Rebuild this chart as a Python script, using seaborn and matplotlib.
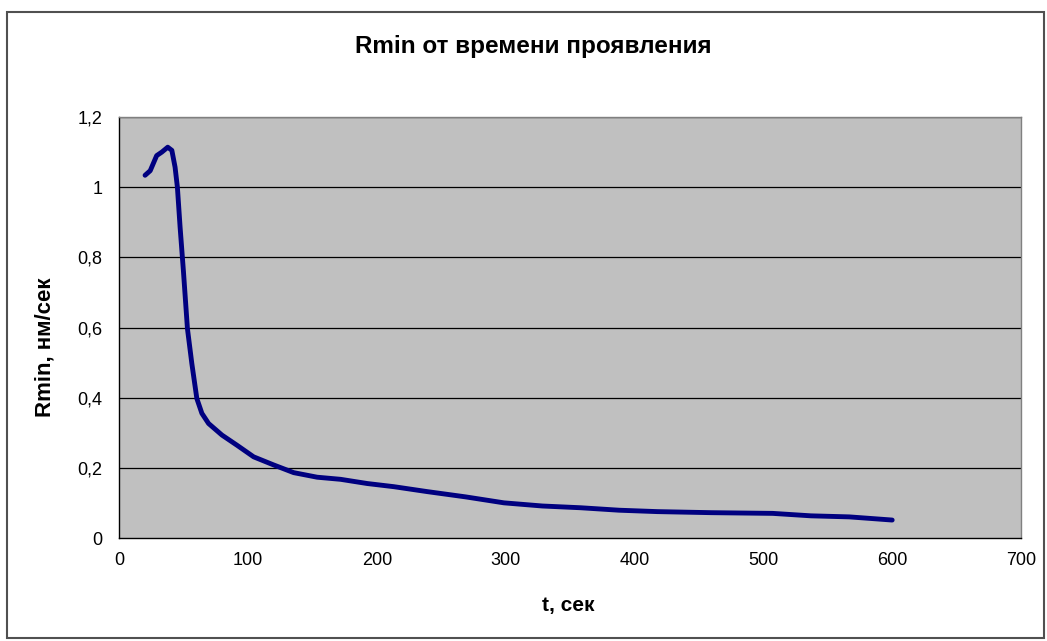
import matplotlib
matplotlib.use("Agg")
import matplotlib.pyplot as plt
import seaborn as sns
import pandas as pd
from matplotlib.patches import Rectangle

t_sec = [20, 24, 29, 33, 37.6, 40.8, 43.3, 45.1, 47.2, 49.8, 52.9, 56.3, 60.2, 64.1,
         69.3, 79.7, 91.4, 104.3, 119.8, 135.4, 153.6, 171.8, 192.5, 213.2, 239,
         268.8, 298.6, 328.4, 358.2, 388, 417.8, 459.5, 507.2, 536.9, 566.7, 600]
rmin = [1.034, 1.047, 1.09, 1.10, 1.114, 1.105, 1.057, 1.0, 0.886, 0.76, 0.597, 0.498,
        0.398, 0.356, 0.327, 0.294, 0.265, 0.232, 0.209, 0.187, 0.174, 0.168, 0.156,
        0.147, 0.133, 0.118, 0.101, 0.092, 0.087, 0.080, 0.076, 0.073, 0.071, 0.064,
        0.061, 0.052]
x_ticks = [0, 100, 200, 300, 400, 500, 600, 700]
y_ticks = [0, 0.2, 0.4, 0.6, 0.8, 1.0, 1.2]
y_tick_labels = ["0", "0,2", "0,4", "0,6", "0,8", "1", "1,2"]
title = "Rmin от времени проявления"
x_label = "t, сек"
y_label = "Rmin, нм/сек"

df = pd.DataFrame({"t": t_sec, "r": rmin})

sns.set_style("white")
plt.rcParams["font.family"] = ["Liberation Sans", "DejaVu Sans"]
plt.rcParams["text.color"] = "black"

W, H = 1047, 641
fig = plt.figure(figsize=(W / 100, H / 100), dpi=100)
fig.patch.set_facecolor("white")
ax = fig.add_axes([119.3 / W, 1 - 538.3 / H, (1021 - 119.3) / W, (538.3 - 117) / H])
ax.set_facecolor("#C0C0C0")

for yv in y_ticks[1:]:
    ax.axhline(yv, color="black", lw=0.9, zorder=1)

sns.lineplot(data=df, x="t", y="r", sort=False, color="#000080", lw=3.5, ax=ax, zorder=3)

ax.set_xlim(0, 700)
ax.set_ylim(0, 1.2)
ax.set_xticks(x_ticks)
ax.set_xticklabels([str(v) for v in x_ticks])
ax.set_yticks(y_ticks)
ax.set_yticklabels(y_tick_labels)
ax.tick_params(axis="both", direction="out", length=6, width=1, color="black",
               labelsize=13, labelcolor="black")
ax.tick_params(axis="y", pad=6)
ax.tick_params(axis="x", pad=4)
ax.set_xlabel("")
ax.set_ylabel("")
for side in ["left", "bottom"]:
    ax.spines[side].set_color("black")
    ax.spines[side].set_linewidth(1)
for side in ["top", "right"]:
    ax.spines[side].set_color("#808080")
    ax.spines[side].set_linewidth(1)

fig.text(533 / W, 1 - 47 / H, title, ha="center", va="center", fontsize=17.5,
         fontweight="bold", color="black")
fig.text(568 / W, 1 - 606 / H, x_label, ha="center", va="center", fontsize=15,
         fontweight="bold", color="black")
fig.text(45 / W, 1 - 347 / H, y_label, ha="center", va="center", rotation=90, fontsize=16,
         fontweight="bold", color="black")

fig.patches.append(Rectangle((7 / W, 1 - 638 / H), (1044 - 7) / W, (638 - 12) / H,
                             transform=fig.transFigure, fill=False, edgecolor="#505050", lw=1.5))

fig.savefig("out.png", dpi=100)
